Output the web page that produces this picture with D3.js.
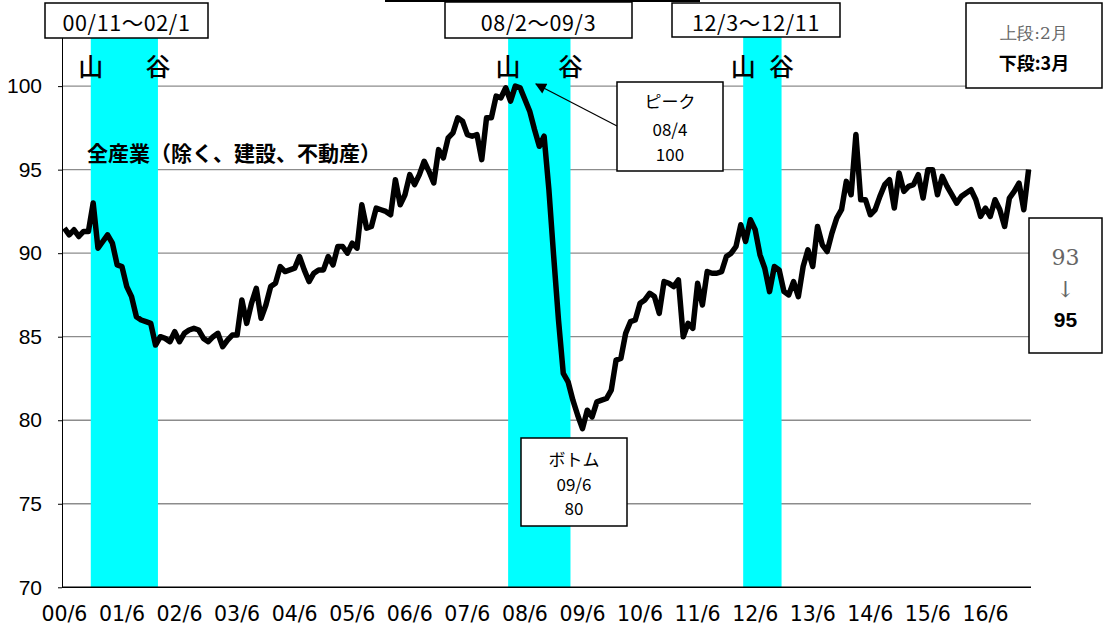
<!DOCTYPE html>
<html>
<head>
<meta charset="utf-8">
<script src="https://cdn.jsdelivr.net/npm/d3@7"></script>
<style>
  body { margin: 0; background: #fff; }
  svg { display: block; }
</style>
</head>
<body>
<svg id="chart" width="1105" height="627"></svg>
<script>
// 月次の指数 (08/4 = 100) 、00/6 から 17/3 まで
const startYear = 2000;
const startMonth = 6;
const v00 = [91.5, 91.1, 91.4, 91.0, 91.3, 91.3, 93.0, 90.3, 90.7, 91.1, 90.6, 89.3];
const v01 = [89.2, 88.0, 87.4, 86.2, 86.0, 85.9, 85.8, 84.5, 85.0, 84.9, 84.7, 85.3];
const v02 = [84.7, 85.2, 85.4, 85.5, 85.4, 84.9, 84.7, 85.0, 85.2, 84.4, 84.8, 85.1];
const v03 = [85.1, 87.2, 85.8, 87.0, 87.9, 86.1, 86.9, 88.0, 88.2, 89.2, 88.9, 89.0];
const v04 = [89.1, 89.8, 89.0, 88.3, 88.8, 89.0, 89.0, 89.8, 89.3, 90.4, 90.4, 90.0];
const v05 = [90.6, 90.3, 92.9, 91.5, 91.6, 92.7, 92.6, 92.5, 92.3, 94.4, 92.9, 93.5];
const v06 = [94.7, 94.1, 94.7, 95.5, 94.9, 94.2, 96.2, 95.7, 96.9, 97.2, 98.1, 97.9];
const v07 = [97.1, 97.0, 97.1, 95.6, 98.1, 98.1, 99.4, 99.3, 99.9, 99.1, 100.0, 99.9];
const v08 = [99.2, 98.5, 97.4, 96.4, 97.0, 93.8, 89.8, 86.0, 82.8, 82.3, 81.2, 80.3];
const v09 = [79.5, 80.6, 80.2, 81.1, 81.2, 81.3, 81.8, 83.6, 83.7, 85.2, 85.9, 86.0];
const v10 = [87.0, 87.2, 87.6, 87.4, 86.4, 88.3, 88.2, 88.0, 88.4, 85.0, 85.8, 85.5];
const v11 = [88.2, 86.9, 88.9, 88.8, 88.8, 88.9, 89.8, 90.0, 90.4, 91.7, 90.7, 92.0];
const v12 = [91.4, 89.9, 89.1, 87.7, 89.2, 89.0, 87.7, 87.5, 88.3, 87.4, 89.2, 90.2];
const v13 = [89.2, 91.6, 90.5, 90.1, 91.2, 92.1, 92.6, 94.3, 93.5, 97.1, 93.2, 93.2];
const v14 = [92.3, 92.6, 93.4, 94.1, 94.4, 92.7, 94.8, 93.7, 94.0, 94.1, 94.7, 93.3];
const v15 = [95.0, 95.0, 93.5, 94.6, 94.0, 93.5, 93.0, 93.4, 93.6, 93.8, 93.2, 92.2];
const v16 = [92.7, 92.2, 93.2, 92.6, 91.6, 93.3, 93.7, 94.2, 92.6, 95.0];

const yTicks = [70, 75, 80, 85, 90, 95, 100];

// 景気の山と谷
const bandTitle = ['00/11～02/1', '08/2～09/3', '12/3～12/11'];
const bandPeak = ['00/11', '08/2', '12/3'];
const bandTrough = ['02/1', '09/3', '12/11'];

const seriesName = '全産業（除く、建設、不動産）';
const peakNote = ['ピーク', '08/4', '100'];
const bottomNote = ['ボトム', '09/6', '80'];
const legendNote = ['上段:2月', '下段:3月'];
const lastNote = ['93', '↓', '95'];

const values = [].concat(v00, v01, v02, v03, v04, v05, v06, v07, v08, v09, v10, v11, v12, v13, v14, v15, v16);
const months = values.map((_, i) => {
  const t = startMonth - 1 + i;
  const yy = (startYear + Math.floor(t / 12)) % 100;
  return String(yy).padStart(2, '0') + '/' + (t % 12 + 1);
});

const JP = '"Noto Sans CJK JP", sans-serif';
const SERIF = '"DejaVu Serif", "Liberation Serif", serif';
const plotLeft = 62, plotRight = 1031, plotBottom = 587.3, plotTop = 36;

const svg = d3.select('#chart');
const x = d3.scaleBand().domain(months).range([plotLeft, plotRight]);
const y = d3.scaleLinear().domain([70, 103]).range([plotBottom, plotTop]);
const cx = m => x(m) + x.bandwidth() / 2;

// grid
svg.append('g')
  .selectAll('line')
  .data(yTicks.filter(v => v > 70))
  .join('line')
  .attr('x1', plotLeft).attr('x2', plotRight)
  .attr('y1', d => y(d)).attr('y2', d => y(d))
  .attr('stroke', '#8c8c8c')
  .attr('stroke-width', 1.3);

// shaded recessions
bandPeak.forEach((p, k) => {
  const from = months[months.indexOf(p) + 1];
  const to = bandTrough[k];
  const x0 = x(from), x1 = x(to) + x.bandwidth();
  svg.append('rect')
    .attr('x', x0).attr('y', y(103))
    .attr('width', x1 - x0).attr('height', plotBottom - y(103))
    .attr('fill', '#00ffff');
  svg.append('text')
    .attr('x', x0).attr('y', 65)
    .attr('text-anchor', 'middle').attr('dominant-baseline', 'central')
    .style('font-family', JP).style('font-size', '25px').style('font-weight', 500)
    .text('山');
  svg.append('text')
    .attr('x', x1).attr('y', 65)
    .attr('text-anchor', 'middle').attr('dominant-baseline', 'central')
    .style('font-family', JP).style('font-size', '25px').style('font-weight', 500)
    .text('谷');
});

// y axis
const yAxis = svg.append('g')
  .attr('transform', `translate(${plotLeft},0)`)
  .call(d3.axisLeft(y).tickValues(yTicks).tickSize(4).tickSizeOuter(0).tickPadding(16));
yAxis.select('.domain').attr('stroke', '#000');
yAxis.selectAll('.tick line').attr('stroke', '#000');
yAxis.selectAll('text')
  .attr('fill', '#000')
  .style('font-family', '"Liberation Sans", Arial, sans-serif')
  .style('font-size', '21px');

// x axis
svg.append('line')
  .attr('x1', plotLeft).attr('x2', plotRight)
  .attr('y1', y(70)).attr('y2', y(70))
  .attr('stroke', '#000').attr('stroke-width', 1.5);

svg.append('g')
  .selectAll('text')
  .data(months.filter(m => m.endsWith('/6')))
  .join('text')
  .attr('x', d => cx(d))
  .attr('y', 614)
  .attr('text-anchor', 'middle')
  .attr('dominant-baseline', 'central')
  .style('font-family', '"DejaVu Sans", sans-serif')
  .style('font-size', '20.5px')
  .text(d => d);

// series name
svg.append('text')
  .attr('x', 87).attr('y', 152)
  .attr('dominant-baseline', 'central')
  .style('font-family', JP).style('font-size', '21px').style('font-weight', 'bold')
  .text(seriesName);

// line
const line = d3.line()
  .x((d, i) => cx(months[i]))
  .y(d => y(d));
svg.append('path')
  .datum(values)
  .attr('d', line)
  .attr('fill', 'none')
  .attr('stroke', '#000')
  .attr('stroke-width', 5.5)
  .attr('stroke-linejoin', 'round');

// boxes
function box(x0, y0, w, h, lines, styles) {
  const g = svg.append('g');
  g.append('rect')
    .attr('x', x0).attr('y', y0).attr('width', w).attr('height', h)
    .attr('fill', '#fff').attr('stroke', '#000').attr('stroke-width', 1.5);
  lines.forEach((t, i) => {
    const s = styles[i];
    g.append('text')
      .attr('x', x0 + w / 2).attr('y', s.y)
      .attr('text-anchor', 'middle').attr('dominant-baseline', 'central')
      .style('font-family', s.font).style('font-size', s.size + 'px')
      .style('font-weight', s.bold ? 'bold' : 'normal')
      .style('letter-spacing', (s.ls || 0) + 'px')
      .attr('fill', s.color || '#000')
      .text(t);
  });
}

const rangeBoxes = [[45, 3, 163, 35], [445, 2, 187, 36], [672, 3, 168, 34]];
bandTitle.forEach((t, k) => {
  const b = rangeBoxes[k];
  box(b[0], b[1], b[2], b[3], [t], [{ y: b[1] + b[3] / 2 + 1, font: JP, size: 21.5, ls: 0.6 }]);
});

// peak note + arrow
svg.append('defs').append('marker')
  .attr('id', 'arr').attr('viewBox', '0 0 10 10')
  .attr('refX', 9).attr('refY', 5)
  .attr('markerWidth', 13).attr('markerHeight', 11)
  .attr('markerUnits', 'userSpaceOnUse')
  .attr('orient', 'auto')
  .append('path').attr('d', 'M0,0L10,5L0,10Z').attr('fill', '#000');
svg.append('line')
  .attr('x1', 617).attr('y1', 126).attr('x2', 536).attr('y2', 84)
  .attr('stroke', '#000').attr('stroke-width', 1.2)
  .attr('marker-end', 'url(#arr)');
box(617, 82, 106, 89, peakNote, [
  { y: 100, font: JP, size: 17 }, { y: 128, font: JP, size: 17 }, { y: 153, font: JP, size: 17 }]);

box(521, 438, 106, 88, bottomNote, [
  { y: 458, font: JP, size: 17 }, { y: 483, font: JP, size: 17 }, { y: 507, font: JP, size: 17 }]);

box(966, 3, 136, 85, legendNote, [
  { y: 33, font: SERIF, size: 17, color: '#666' }, { y: 62, font: JP, size: 18, bold: true }]);

box(1029, 218, 73, 135, lastNote, [
  { y: 257, font: SERIF, size: 22, color: '#666' }, { y: 289, font: SERIF, size: 22, color: '#666' },
  { y: 319, font: '"Liberation Sans", Arial, sans-serif', size: 21, bold: true }]);

// cut-off rule at the top
svg.append('line')
  .attr('x1', 385).attr('x2', 700).attr('y1', 1).attr('y2', 1)
  .attr('stroke', '#000').attr('stroke-width', 2);
</script>
</body>
</html>
